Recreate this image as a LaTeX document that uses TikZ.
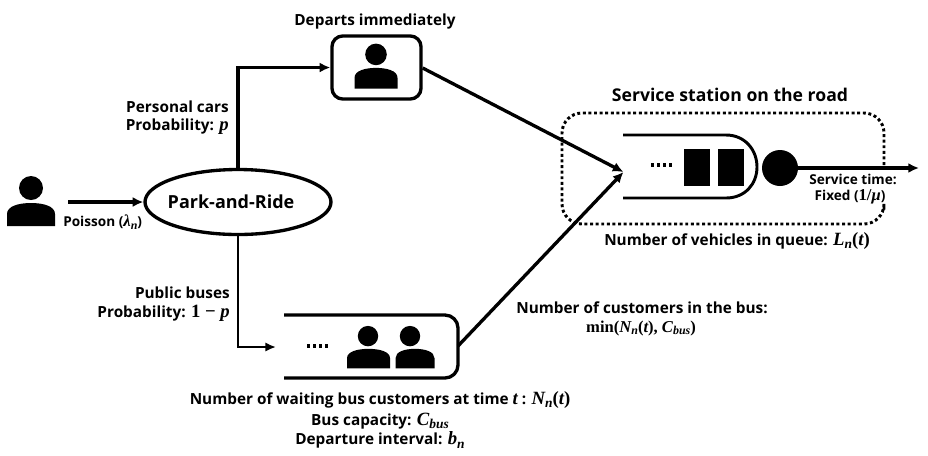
\documentclass[tikz,border=0pt]{standalone}
\usepackage{fontspec}
\setmainfont{Open Sans}
\newfontfamily\mfam[Scale=1.22]{Liberation Serif}
\usetikzlibrary{shapes.geometric,arrows.meta}
\newcommand{\mvar}[1]{{\mfam\bfseries\itshape #1}}
\newcommand{\mup}[1]{{\mfam\bfseries #1}}
\newcommand{\msub}[1]{\raisebox{-0.22em}{\fontsize{0.72em}{1em}\selectfont\mfam\bfseries\itshape #1}}
\newcommand{\personicon}[5]{% head x, body x, y, body half width, y scale
  \fill[black] (#1,#3-14*#5) circle[radius=#5*12*0.75pt];
  \fill[black] (#2-#4,#3+24*#5) -- (#2-#4,#3+12*#5)
     .. controls (#2-#4,#3+4*#5) and (#2-#4*0.5,#3+1*#5) .. (#2,#3+1*#5)
     .. controls (#2+#4*0.5,#3+1*#5) and (#2+#4,#3+4*#5) .. (#2+#4,#3+12*#5)
     -- (#2+#4,#3+24*#5) -- cycle;
}
\tikzset{
  flow/.style={draw=black,line width=2.5pt,-{Latex[length=8pt,width=7.5pt]}},
  thinflow/.style={draw=black,line width=2.2pt,-{Latex[length=8pt,width=7pt]}},
  shapeline/.style={draw=black,line width=2.5pt},
  lab/.style={font=\fontsize{11.5pt}{13.5pt}\selectfont\bfseries,align=center,inner sep=0pt,text=black},
  smalllab/.style={font=\fontsize{10.2pt}{12pt}\selectfont\bfseries,align=center,inner sep=0pt,text=black},
}
\begin{document}
\begin{tikzpicture}[x=0.75pt,y=-0.75pt]
\useasboundingbox[fill=white] (0,0) rectangle (928,455);
% persons
\personicon{31}{31}{202}{24}{1}
\personicon{376}{376}{67}{21.5}{0.9}
\personicon{368}{368.5}{348}{21.5}{0.85}
\personicon{410}{415}{348}{19.5}{0.85}
% nodes
\node[ellipse,shapeline,minimum width=186*0.75pt,minimum height=65*0.75pt,inner sep=0pt] (pr) at (238,202) {};
\node[font=\fontsize{13.5pt}{16pt}\selectfont\bfseries,inner sep=0pt] (prtext) at (231,202) {Park-and-Ride};
\node[shapeline,rounded corners=8pt,minimum width=89*0.75pt,minimum height=63*0.75pt,inner sep=0pt] (car) at (376.5,67.5) {};
\coordinate (src) at (68,202);
\coordinate (corner1) at (238,67.5);
\coordinate (corner2) at (238,347);
\coordinate (busin) at (276,347);
\coordinate (busout) at (458,346);
\coordinate (qin) at (623.5,172);
\coordinate (sout) at (919,168);
\node[circle,fill=black,minimum size=36*0.75pt,inner sep=0pt] (server) at (780,168) {};
% bus box
\draw[shapeline,line join=round] (284,315) -- (445,315) arc[start angle=90,end angle=0,radius=13*0.75pt]
   -- (458,365) arc[start angle=0,end angle=-90,radius=13*0.75pt] -- (284,378);
% queue
\draw[draw=black,line width=2.2pt] (623,135) -- (726,135)
   .. controls (745,135) and (757,150) .. (757,167)
   .. controls (757,184) and (745,198) .. (726,198) -- (623,198);
\fill[black] (684,149) rectangle (710,186);
\fill[black] (718,149) rectangle (744,186);
% service dotted box
\draw[black,line width=2.2pt,dash pattern=on 2.2pt off 2pt,rounded corners=15pt] (884,165) -- (884,113) -- (562,113) -- (562,224) -- (884,224) -- (884,210);
% dots
\draw[black,line width=2.4pt,dash pattern=on 2.6pt off 1.9pt] (651,165) -- (672,165);
\draw[black,line width=2.4pt,dash pattern=on 2.6pt off 1.9pt] (307,346) -- (329,346);
% connectors
\draw[flow] (src) -- (pr.west);
\draw[flow] (pr.north) -- (corner1) -- (car.west);
\draw[thinflow] (pr.south) -- (corner2) -- (busin);
\draw[flow] (car.east |- 0,68) -- (qin);
\draw[flow] (busout) -- (qin);
\draw[flow] (server) -- (sout);
% labels
\node[lab] (t1) at (375,22) {Departs immediately};
\node[lab,anchor=east] (t2) at (229,107) {Personal cars};
\node[lab,anchor=east] (t3) at (229,127) {Probability: \mvar{p}};
\node[smalllab,anchor=west] (t4) at (63,222) {Poisson (\mvar{λ}\msub{n})};
\node[lab,anchor=east] (t5) at (230,293) {Public buses};
\node[lab,anchor=east] (t6) at (230,313) {Probability: \mup{1 − }\mvar{p}};
\node[font=\fontsize{13.2pt}{15pt}\selectfont\bfseries,inner sep=0pt] (t7) at (730,95) {Service station on the road};
\node[smalllab] (t8) at (853,179) {Service time:};
\node[smalllab] (t9) at (850,197) {Fixed (\mup{1/}\mvar{μ})};
\node[lab] (t10) at (737,241) {Number of vehicles in queue: \mvar{L}\msub{n}\mup{(}\mvar{t}\mup{)}};
\node[lab] (t11) at (642,308) {Number of customers in the bus:};
\node[smalllab] (t12) at (641,328) {\mup{min(}\mvar{N}\msub{n}\mup{(}\mvar{t}\mup{), }\mvar{C}\msub{bus}\mup{)}};
\node[lab] (t13) at (380,400) {Number of waiting bus customers at time \mvar{t} : \mvar{N}\msub{n}\mup{(}\mvar{t}\mup{)}};
\node[lab] (t14) at (380,421) {Bus capacity: \mvar{C}\msub{bus}};
\node[lab] (t15) at (380,440) {Departure interval: \mvar{b}\msub{n}};
\end{tikzpicture}
\end{document}
